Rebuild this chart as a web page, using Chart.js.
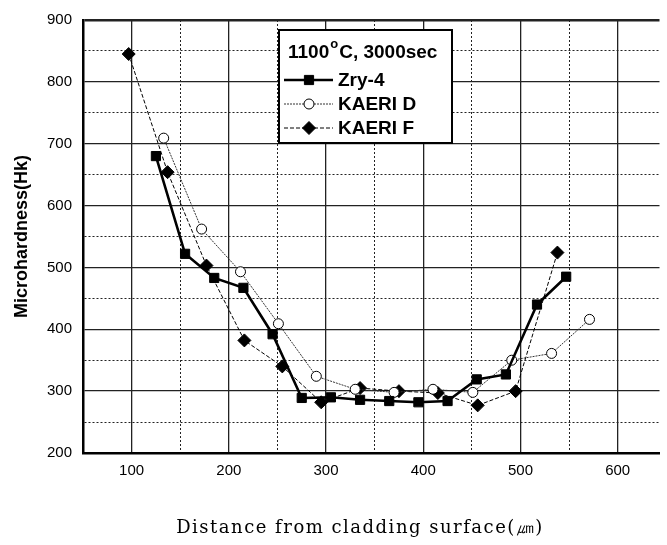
<!DOCTYPE html>
<html>
<head>
<meta charset="utf-8">
<script src="https://cdn.jsdelivr.net/npm/chart.js@4.4.1/dist/chart.umd.min.js"></script>
<style>
  html, body { margin: 0; padding: 0; background: #fff; }
</style>
</head>
<body>
<canvas id="chart" width="667" height="545"></canvas>
<script>
// Data (distance in um, hardness Hk)
const zryX = [125, 155, 185, 215, 245, 275, 305, 335, 365, 395, 425, 455, 485, 517, 547];
const zryY = [680, 522, 483, 467, 392, 289, 290, 286, 284, 282, 284, 319, 327, 440, 485];

const kaeriDX = [133, 172, 212, 251, 290, 330, 370, 410, 451, 491, 532, 571];
const kaeriDY = [709, 562, 493, 409, 324, 303, 298, 303, 298, 350, 361, 416];

const kaeriFX = [97, 137, 177, 216, 255, 295, 335, 375, 415, 456, 495, 538];
const kaeriFY = [845, 654, 503, 382, 340, 282, 305, 300, 297, 277, 300, 524];

const xTickLabels = [100, 200, 300, 400, 500, 600];
const yTickLabels = [200, 300, 400, 500, 600, 700, 800, 900];

const legendTitle = ['1100', 'o', 'C, 3000sec'];
const xTitle = 'Distance from cladding surface(㎛)';

function toPoints(xs, ys) {
    return xs.map((x, i) => ({ x: x, y: ys[i] }));
}

const sansBold = 'bold 19px "Liberation Sans", Arial, sans-serif';

// Legenda desenhada dentro da área do gráfico, com caixa
const boxLegend = {
    id: 'boxLegend',
    afterDatasetsDraw(chart) {
        const ctx = chart.ctx;
        const left = 279, top = 30, right = 452, bottom = 143;
        ctx.save();
        ctx.fillStyle = '#fff';
        ctx.fillRect(left, top, right - left, bottom - top);
        ctx.strokeStyle = '#000';
        ctx.lineWidth = 2;
        ctx.strokeRect(left, top, right - left, bottom - top);

        // title with superscript "o"
        ctx.fillStyle = '#000';
        ctx.textBaseline = 'alphabetic';
        ctx.font = sansBold;
        let x = 288;
        ctx.fillText(legendTitle[0], x, 58);
        x += ctx.measureText(legendTitle[0]).width + 1;
        ctx.font = 'bold 13px "Liberation Sans", Arial, sans-serif';
        ctx.fillText(legendTitle[1], x, 48);
        x += ctx.measureText(legendTitle[1]).width + 1;
        ctx.font = sansBold;
        ctx.fillText(legendTitle[2], x, 58);

        const rows = [80, 104, 128];
        chart.data.datasets.forEach((ds, i) => {
            const y = rows[i];
            ctx.save();
            ctx.strokeStyle = ds.borderColor;
            ctx.lineWidth = ds.borderWidth;
            ctx.setLineDash(ds.borderDash || []);
            ctx.beginPath();
            ctx.moveTo(284, y);
            ctx.lineTo(333, y);
            ctx.stroke();
            ctx.restore();

            ctx.save();
            ctx.fillStyle = ds.pointBackgroundColor;
            ctx.strokeStyle = '#000';
            ctx.lineWidth = 1;
            Chart.helpers.drawPoint(ctx, {
                pointStyle: ds.pointStyle,
                radius: ds.pointRadius,
                rotation: 0,
                borderWidth: 1
            }, 309, y);
            ctx.restore();

            ctx.fillStyle = '#000';
            ctx.font = sansBold;
            ctx.textBaseline = 'middle';
            ctx.fillText(ds.label, 338, y + 1);
        });
        ctx.restore();
    }
};

// Título do eixo x com espaçamento largo (fonte serifada)
const wideXTitle = {
    id: 'wideXTitle',
    afterDraw(chart) {
        const ctx = chart.ctx;
        ctx.save();
        ctx.fillStyle = '#000';
        ctx.font = '18px "DejaVu Serif", "Liberation Serif", serif';
        if ('letterSpacing' in ctx) ctx.letterSpacing = '1.5px';
        ctx.textAlign = 'center';
        ctx.textBaseline = 'middle';
        ctx.fillText(xTitle, 360, 528);
        ctx.restore();
    }
};

const gridColor = '#222';

new Chart(document.getElementById('chart'), {
    type: 'scatter',
    data: {
        datasets: [
            {
                label: 'Zry-4',
                data: toPoints(zryX, zryY),
                showLine: true,
                borderColor: '#000',
                borderWidth: 2.6,
                pointStyle: 'rect',
                pointRadius: 6.5,
                pointBackgroundColor: '#000',
                pointBorderColor: '#000',
                pointBorderWidth: 1
            },
            {
                label: 'KAERI D',
                data: toPoints(kaeriDX, kaeriDY),
                showLine: true,
                borderColor: '#333',
                borderWidth: 1,
                borderDash: [2, 1],
                pointStyle: 'circle',
                pointRadius: 5,
                pointBackgroundColor: '#fff',
                pointBorderColor: '#000',
                pointBorderWidth: 1
            },
            {
                label: 'KAERI F',
                data: toPoints(kaeriFX, kaeriFY),
                showLine: true,
                borderColor: '#000',
                borderWidth: 1,
                borderDash: [4, 2],
                pointStyle: 'rectRot',
                pointRadius: 6.5,
                pointBackgroundColor: '#000',
                pointBorderColor: '#000',
                pointBorderWidth: 1
            }
        ]
    },
    options: {
        responsive: false,
        animation: false,
        layout: { padding: { top: 18, right: 0, left: 0, bottom: 0 } },
        plugins: {
            legend: { display: false },
            tooltip: { enabled: false }
        },
        scales: {
            x: {
                type: 'linear',
                min: 50,
                max: 643,
                afterBuildTicks(scale) {
                    scale.ticks = scale.ticks.filter(t => t.value % 50 === 0);
                },
                afterFit(scale) { scale.height = 92; },
                ticks: {
                    stepSize: 50,
                    autoSkip: false,
                    maxRotation: 0,
                    padding: 9,
                    color: '#000',
                    font: { family: '"Liberation Sans", Arial, sans-serif', size: 15 },
                    callback: v => xTickLabels.includes(v) ? String(v) : ''
                },
                grid: {
                    drawTicks: false,
                    color: gridColor,
                    lineWidth: c => (c.tick && c.tick.value % 100 === 0) ? 1.3 : 1
                },
                border: {
                    color: '#000',
                    width: 2.5,
                    dash: c => (c.tick && c.tick.value % 100 !== 0) ? [2, 2] : []
                },
                title: { display: false }
            },
            y: {
                type: 'linear',
                min: 200,
                max: 900,
                afterFit(scale) { scale.width = 83; },
                ticks: {
                    stepSize: 50,
                    autoSkip: false,
                    padding: 11,
                    color: '#000',
                    font: { family: '"Liberation Sans", Arial, sans-serif', size: 15 },
                    callback: v => yTickLabels.includes(v) ? String(v) : ''
                },
                grid: {
                    drawTicks: false,
                    color: gridColor,
                    lineWidth: c => {
                        if (!c.tick) return 1;
                        if (c.tick.value === 900) return 2.5;
                        return c.tick.value % 100 === 0 ? 1.3 : 1;
                    }
                },
                border: {
                    color: '#000',
                    width: 2.5,
                    dash: c => (c.tick && c.tick.value % 100 !== 0) ? [2, 2] : []
                },
                title: {
                    display: true,
                    text: 'Microhardness(Hk)',
                    color: '#000',
                    font: { family: '"Liberation Sans", Arial, sans-serif', size: 18, weight: 'bold' },
                    padding: { top: 11, bottom: 0 }
                }
            }
        }
    },
    plugins: [boxLegend, wideXTitle]
});
</script>
</body>
</html>
